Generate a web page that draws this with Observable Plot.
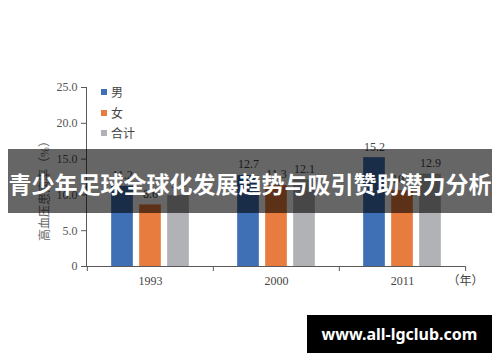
<!DOCTYPE html>
<html>
<head>
<meta charset="utf-8">
<script src="https://cdn.jsdelivr.net/npm/d3@7"></script>
<script src="https://cdn.jsdelivr.net/npm/@observablehq/plot@0.6"></script>
<style>
  html, body { margin: 0; padding: 0; background: #fff; }
  #wrap { position: relative; width: 500px; height: 362px; overflow: hidden; }
  #chart svg { display: block; }
  #legend { position: absolute; left: 101px; top: 82px; font-family: "Liberation Serif", "Noto Sans CJK SC", serif; font-size: 12px; color: #444; }
  #legend .row { display: flex; align-items: center; height: 20.5px; }
  #legend .sw { width: 6px; height: 6px; margin-right: 4px; }
  #banner { position: absolute; left: 8px; top: 149px; width: 484px; height: 64px; background: rgba(0,0,0,0.6);
            color: #fff; font-family: "Noto Sans CJK SC", sans-serif; font-weight: 700; font-size: 23px;
            display: flex; align-items: center; justify-content: center; white-space: nowrap; padding-top: 3px; box-sizing: border-box; }
  #wm { position: absolute; left: 307px; top: 315px; width: 185px; height: 38px; background: #000; color: #fff;
        font-family: "Noto Sans", sans-serif; font-weight: 700; font-size: 16px;
        display: flex; align-items: center; justify-content: center; white-space: nowrap; }
</style>
</head>
<body>
<div id="wrap">
  <div id="chart"></div>
  <div id="legend"></div>
  <div id="banner"></div>
  <div id="wm"></div>
</div>
<script>
const years = ["1993", "2000", "2011"];
const seriesNames = ["男", "女", "合计"];
const male = [11.2, 12.7, 15.2];
const female = [8.6, 11.3, 10.6];
const total = [9.9, 12.1, 12.9];
const yTicks = [0, 5, 10, 15, 20, 25];
const colors = ["#3f6fb5", "#e87c3e", "#b1b2b5"];
const yLabel = "高血压患病率（%）";
const xUnit = "（年）";
const title = "青少年足球全球化发展趋势与吸引赞助潜力分析";
const watermark = "www.all-lgclub.com";

const seriesValues = [male, female, total];
const data = years.flatMap((yr, i) => seriesNames.map((s, k) => ({year: yr, series: s, value: seriesValues[k][i]})));

const W = 500, H = 362, mL = 86, mR = 35, mT = 87, mB = 96;
const bw = (W - mL - mR) / years.length;
const barW = 22, step = 28;
const inset = (bw - barW) / 2;
const serif = "Liberation Serif, Noto Sans CJK SC, serif";
const axisColor = "#595959";

const barMarks = seriesNames.flatMap((s, k) => {
  const sub = data.filter(d => d.series === s);
  const dx = (k - 1) * step;
  return [
    Plot.barY(sub, {x: "year", y: "value", fill: colors[k], dx, insetLeft: inset, insetRight: inset}),
    Plot.text(sub, {x: "year", y: "value", text: d => d.value.toFixed(1), dx, dy: -11, lineAnchor: "middle",
                    fill: "#444", fontSize: 12, fontFamily: serif})
  ];
});

const chart = Plot.plot({
  width: W, height: H,
  marginLeft: mL, marginRight: mR, marginTop: mT, marginBottom: mB,
  style: {background: "transparent", fontFamily: serif},
  x: {domain: years, padding: 0, axis: null, label: null},
  y: {domain: [0, 25], axis: null, label: null},
  marks: [
    ...barMarks,
    Plot.frame({anchor: "left", stroke: axisColor}),
    Plot.ruleY([0], {stroke: axisColor}),
    Plot.ruleX(years, {x: d => d, y1: 0, y2: 0, dx: -bw / 2, insetBottom: -5, stroke: axisColor}),
    Plot.ruleX(years.slice(-1), {x: d => d, y1: 0, y2: 0, dx: bw / 2, insetBottom: -5, stroke: axisColor}),
    Plot.axisX({tickSize: 0, tickPadding: 10, fontSize: 12, fill: "#444", fontFamily: serif, label: null}),
    Plot.axisY({ticks: yTicks, tickSize: 5, tickPadding: 4, stroke: axisColor, fill: "#555", fontSize: 12, fontFamily: serif,
                tickFormat: d => d === 0 ? "0" : d.toFixed(1), label: null}),
    Plot.text([yLabel], {frameAnchor: "left", textAnchor: "middle", rotate: -90, dx: -41, dy: 11, fill: "#666", fontSize: 12, fontFamily: serif}),
    Plot.text([xUnit], {frameAnchor: "bottom-right", textAnchor: "start", lineAnchor: "top", dx: -18, dy: 10, fill: "#444", fontSize: 12, fontFamily: serif})
  ]
});
document.getElementById("chart").appendChild(chart);

const legend = document.getElementById("legend");
seriesNames.forEach((s, k) => {
  const row = document.createElement("div");
  row.className = "row";
  const sw = document.createElement("span");
  sw.className = "sw";
  sw.style.background = colors[k];
  const t = document.createElement("span");
  t.textContent = s;
  row.appendChild(sw); row.appendChild(t);
  legend.appendChild(row);
});
document.getElementById("banner").textContent = title;
document.getElementById("wm").textContent = watermark;
</script>
</body>
</html>
